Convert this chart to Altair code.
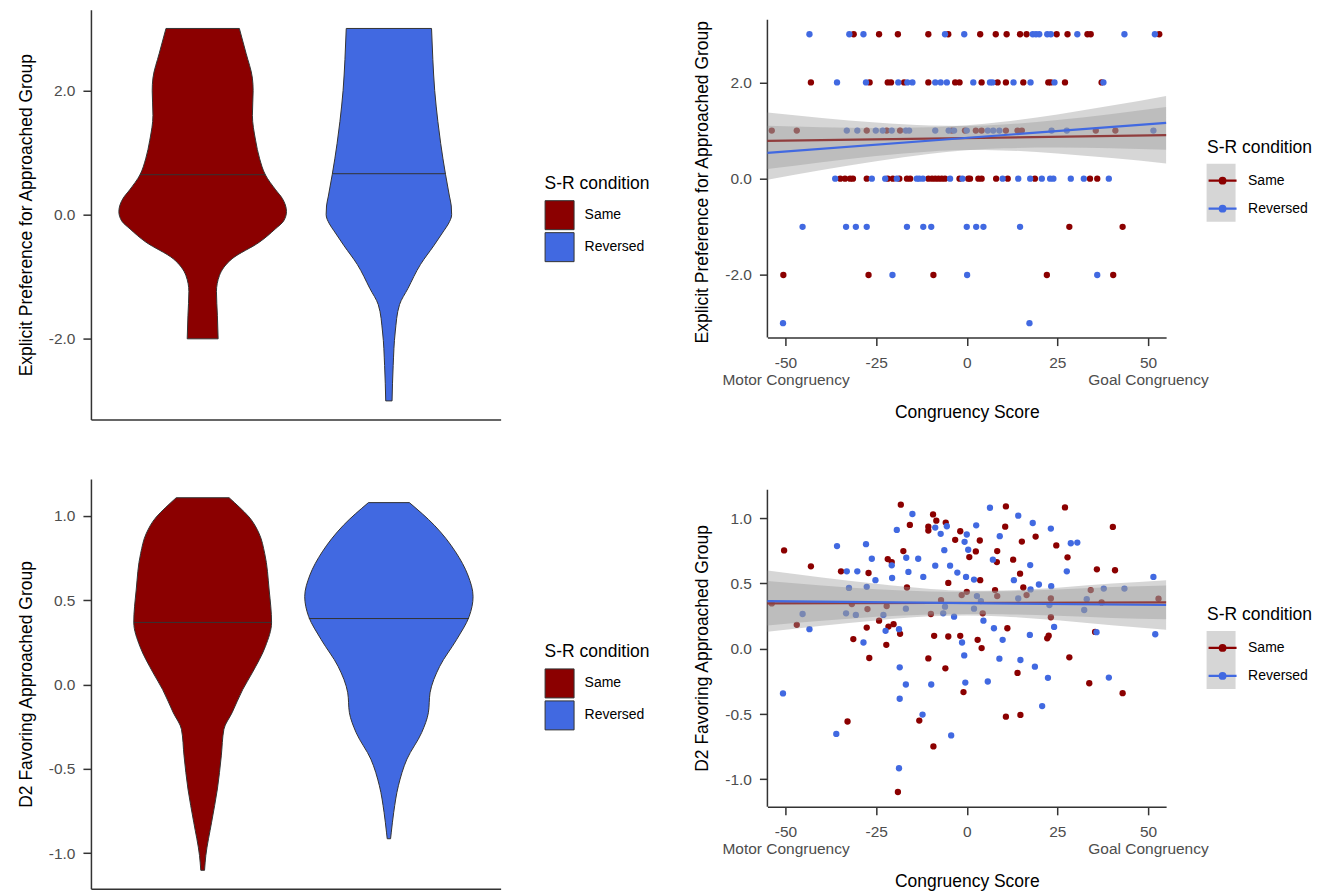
import altair as alt
import pandas as pd

FONT = "Liberation Sans"
RED, BLUE = "#8B0000", "#4169E1"
CONDS = ["Same", "Reversed"]
LEGEND_TITLE = "S-R condition"
X_TITLE = "Congruency Score"
TOP_Y_TITLE = "Explicit Preference for Approached Group"
BOT_Y_TITLE = "D2 Favoring Approached Group"
X_TICKS = [-50, -25, 0, 25, 50]
X_LOW_NAME = "Motor Congruency"
X_HIGH_NAME = "Goal Congruency"
TOP_Y_TICKS = [-2, 0, 2]
BOT_Y_TICKS = [-1, -0.5, 0, 0.5, 1]
X_RANGE = [-55, 55]
TOP_Y_RANGE = [-3.3, 3.3]
BOT_Y_RANGE = [-1.2105, 1.2175]

# ---------------- violin outlines (value, half width in category units) -------------
VT_SAME_Y = [3.0, 2.6, 2.2, 2.0, 1.6, 1.2, 0.9, 0.64, 0.4, 0.26, 0.05, -0.1, -0.23, -0.44, -0.71, -0.98, -1.24, -1.62, -2.0]
VT_SAME_W = [0.197, 0.233, 0.267, 0.271, 0.267, 0.284, 0.306, 0.337, 0.392, 0.428, 0.45, 0.435, 0.39, 0.306, 0.158, 0.090, 0.074, 0.079, 0.083]
VT_REV_Y = [3.0, 2.5, 2.0, 1.5, 1.15, 0.65, 0.3, 0.14, 0.0, -0.15, -0.26, -0.5, -0.8, -1.19, -1.45, -1.89, -2.43, -3.0]
VT_REV_W = [0.229, 0.236, 0.246, 0.263, 0.278, 0.304, 0.325, 0.335, 0.337, 0.319, 0.295, 0.241, 0.170, 0.102, 0.057, 0.034, 0.023, 0.017]
VT_MED = [0.644, 0.66]
VT_MED_W = [0.337, 0.304]

VB_SAME_Y = [1.107, 1.05, 0.993, 0.895, 0.777, 0.56, 0.368, 0.226, 0.069, -0.03, -0.167, -0.265, -0.423, -0.619, -0.816, -1.013, -1.101]
VB_SAME_W = [0.142, 0.198, 0.249, 0.303, 0.333, 0.357, 0.370, 0.337, 0.266, 0.215, 0.158, 0.114, 0.100, 0.079, 0.048, 0.017, 0.010]
VB_REV_Y = [1.078, 0.944, 0.786, 0.649, 0.521, 0.403, 0.265, 0.108, -0.049, -0.167, -0.285, -0.442, -0.600, -0.757, -0.875, -0.914]
VB_REV_W = [0.110, 0.244, 0.358, 0.424, 0.452, 0.431, 0.363, 0.273, 0.221, 0.212, 0.176, 0.097, 0.051, 0.026, 0.013, 0.009]
VB_MED = [0.368, 0.391]
VB_MED_W = [0.370, 0.430]

# ---------------- top scatter: explicit preference (integer levels) -----------------
SAME_AT_3 = [-31.2, -24.2, -19.0, -10.6, -5.1, 3.7, 8.0, 11.0, 14.7, 16.5, 24.8, 27.8, 33.3, 34.2, 53.1]
SAME_AT_2 = [-43.0, -26.8, -21.8, -20.9, -17.3, -10.6, -3.2, -2.0, 4.1, 8.5, 10.8, 15.6, 22.5, 23.2, 27.1, 37.2]
SAME_AT_1 = [-53.8, -46.9, -27.6, -22.1, -18.4, -4.1, -0.5, 2.5, 4.1, 10.8, 14.0, 15.2, 35.6, 41.0]
SAME_AT_0 = [-34.9, -33.6, -32.2, -31.4, -27.6, -21.8, -20.4, -18.6, -16.5, -15.6, -10.6, -9.6, -8.7, -7.8, -6.9, -6.0, -2.0, 0.4, 0.9, 3.2, 4.1, 8.1, 11.3, 18.8, 34.0, 36.0]
SAME_AT_M1 = [28.3, 43.0]
SAME_AT_M2 = [-50.6, -27.1, -9.2, 22.1, 40.4]
SAME_AT_M3 = []

REV_AT_3 = [-43.4, -32.4, -28.5, -6.0, -0.7, 18.2, 19.1, 20.0, 22.2, 23.2, 30.5, 43.5, 51.9]
REV_AT_2 = [-35.8, -27.8, -18.9, -16.4, -15.0, -8.7, -7.2, -5.5, 1.8, 6.4, 7.1, 12.9, 17.6, 24.2, 37.7]
REV_AT_1 = [-33.1, -30.2, -25.1, -23.2, -20.7, -16.8, -15.9, -8.7, -5.0, -3.5, 0.0, 5.8, 7.3, 9.0, 23.4, 27.6, 51.5]
REV_AT_0 = [-36.3, -26.2, -22.5, -19.3, -13.8, -13.1, -12.1, -4.6, -1.2, 9.9, 14.2, 17.5, 20.7, 23.0, 23.9, 28.7, 32.3, 39.2]
REV_AT_M1 = [-45.3, -33.3, -30.6, -27.6, -16.5, -12.0, -9.8, 0.0, 2.6, 4.6, 14.7]
REV_AT_M2 = [-20.5, 0.1, 36.0]
REV_AT_M3 = [-50.7, 17.3]

# ---------------- bottom scatter: D2 --------------------------------------------------
BR_SAME_X = [-50.4, -43.0, -34.7, -27.1, -21.8, -20.7, -17.5, -18.2, -15.7, -10.6, -10.6, -9.3, -8.4, -5.8, -1.8,
             -3.2, 0.7, -16.5, -5.1, -53.8, -46.9, -31.7, -27.4, -22.1, -24.2, -27.6, -21.6, -20.2, -18.4, -31.3,
             -22.2, -26.9, -9.0, -5.1, -1.8, -10.6, -5.9, -0.9, -32.9, -13.1, -9.2, -19.0, -9.9, -7.1, -1.4,
             3.6, 2.5, 10.8, 10.6, 8.4, 8.3, 15.2, 19.0, 12.8, 14.7, 15.6, 27.1, 24.7, 27.8, 40.3, 35.9, 40.9,
             3.7, 7.8, 8.4, 0.0, 4.4, 16.5, 23.2, 23.2, 34.2, 37.2, 52.9, 3.0, 4.1, 11.2, 22.2, 22.6, 28.3, 35.4,
             14.0, 33.8, 43.0, 10.8, 14.8]
BR_SAME_Y = [0.753, 0.631, 0.593, 0.580, 0.687, 0.664, 0.748, 1.103, 0.948, 0.935, 0.905, 1.029, 0.981, 0.966, 0.900,
             0.834, 0.702, 0.469, 0.504, 0.347, 0.183, 0.342, 0.304, 0.327, 0.215, 0.162, 0.170, 0.188, 0.114, 0.074,
             0.030, -0.071, 0.099, 0.094, 0.099, -0.074, -0.150, -0.332, -0.557, -0.550, -0.748, -1.097, 0.266, 0.373, 0.411,
             0.829, 0.745, 1.090, 0.935, 0.748, 0.664, 0.821, 0.859, 0.682, 0.575, 0.469, 1.082, 0.791, 0.700, 0.933, 0.608, 0.601,
             0.525, 0.449, 0.403, 0.436, 0.271, 0.411, 0.385, 0.241, 0.449, 0.355, 0.383, 0.068, 0.005, 0.157, 0.080, 0.100, -0.066, 0.129,
             -0.185, -0.264, -0.340, -0.520, -0.507]
BR_REV_X = [-35.8, -27.8, -26.2, -33.1, -30.2, -25.2, -20.6, -20.7, -16.7, -16.1, -13.4, -12.0, -19.3, -15.0, -8.7,
            -7.2, -5.5, -6.2, -8.7, -4.6, -2.6, -0.2, 0.0, -0.6, 0.4, -32.5, -27.6, -45.3, -33.3, -30.6, -23.0,
            -16.8, -6.5, -6.0, -3.5, -43.4, -22.4, -18.7, -28.5, -18.5, -16.8, -18.5, -9.8, -1.3, -0.7, -0.4,
            -50.7, -36.0, -12.2, -4.3, -18.7,
            6.4, 2.6, 9.1, 14.2, 18.2, 23.2, 28.7, 30.5, 7.2, 17.5, 27.6, 2.0, 13.0, 19.9, 23.3, 17.6, 14.2, 2.8,
            2.0, 3.9, 22.8, 33.1, 32.4, 37.8, 43.5, 51.5, 52.0, 4.6, 7.5, 9.9, 17.4, 24.1, 35.8, 9.0, 14.8, 18.8,
            22.4, 5.8, 39.2, 20.8]
BR_REV_Y = [0.786, 0.801, 0.689, 0.593, 0.593, 0.525, 0.542, 0.639, 0.697, 0.588, 0.689, 0.550, 0.910, 1.032, 0.928,
            0.880, 0.938, 0.755, 0.636, 0.636, 0.583, 0.550, 0.875, 0.819, 0.758, 0.466, 0.474, 0.266, 0.271, 0.259, 0.259,
            0.307, 0.271, 0.322, 0.246, 0.150, 0.137, 0.150, 0.048, -0.142, -0.274, -0.383, -0.274, 0.048, -0.051, -0.259,
            -0.342, -0.652, -0.504, -0.664, -0.915,
            1.080, 0.945, 0.862, 1.019, 0.963, 0.920, 0.808, 0.813, 0.682, 0.641, 0.593, 0.530, 0.525, 0.492, 0.479, 0.454, 0.385, 0.403,
            0.307, 0.365, 0.335, 0.380, 0.297, 0.461, 0.461, 0.550, 0.111, 0.215, 0.157, 0.068, 0.106, 0.167, 0.127, -0.076, -0.086, -0.137,
            -0.223, -0.251, -0.221, -0.439]

# ---------------- fitted lines and confidence bands ----------------------------------
FIT_X = [-55, 55]
TR_SAME_FIT = [0.787, 0.903]
TR_REV_FIT = [0.538, 1.159]
BR_SAME_FIT = [0.348, 0.355]
BR_REV_FIT = [0.365, 0.335]

BAND_X = [-55, -40, -25, -10, 0, 10, 25, 40, 55]
TR_SAME_LO = [0.201, 0.344, 0.472, 0.567, 0.595, 0.588, 0.524, 0.428, 0.317]
TR_SAME_HI = [1.373, 1.262, 1.166, 1.103, 1.095, 1.124, 1.218, 1.346, 1.489]
TR_REV_LO = [-0.022, 0.178, 0.364, 0.518, 0.589, 0.631, 0.646, 0.630, 0.600]
TR_REV_HI = [1.098, 1.068, 1.052, 1.068, 1.109, 1.181, 1.334, 1.520, 1.720]
BR_SAME_LO = [0.178, 0.214, 0.245, 0.263, 0.267, 0.264, 0.253, 0.236, 0.225]
BR_SAME_HI = [0.518, 0.484, 0.455, 0.439, 0.437, 0.440, 0.453, 0.472, 0.485]
BR_REV_LO = [0.130, 0.176, 0.217, 0.248, 0.255, 0.247, 0.218, 0.179, 0.145]
BR_REV_HI = [0.600, 0.546, 0.497, 0.458, 0.445, 0.447, 0.468, 0.499, 0.525]

# ---------------- styling helpers ----------------------------------------------------
MINUS = "\u2212"
YLAB = "replace(format(datum.value, '.1f'), '" + MINUS + "', '-')"
XLAB = ("datum.value == %d ? ['%d', '%s'] : datum.value == %d ? ['%d', '%s'] : replace(datum.label, '%s', '-')"
        % (X_TICKS[0], X_TICKS[0], X_LOW_NAME, X_TICKS[-1], X_TICKS[-1], X_HIGH_NAME, MINUS))
KEY_PATH = "M-1,0H1M-0.2,0A0.2,0.2,0,1,0,0.2,0A0.2,0.2,0,1,0,-0.2,0Z"
BOX_PATH = "M-0.5,-1H0.5V1H-0.5Z"
KEY_BG = "#D6D6D6"
AXIS_GREY = "#333333"

LEG_COMMON = dict(
    orient="none", padding=0, symbolOpacity=1, labelOffset=10,
    labelFont=FONT, labelFontSize=14, labelColor="#000000",
    titleFont=FONT, titleFontSize=17.5, titleFontWeight="normal", titleColor="#000000",
)


def violin_panel(same_y, same_w, rev_y, rev_w, med, med_w, ydom, yticks, ytitle, w, h, lx, ly):
    rows = []
    for cond, c, yv, wv in (("Same", 1, same_y, same_w), ("Reversed", 2, rev_y, rev_w)):
        for a, b in zip(yv, wv):
            rows.append({"cond": cond, "c": c, "y": a, "w": b})
    df = pd.DataFrame(rows)
    mdf = pd.DataFrame({"cond": CONDS, "c": [1, 2], "m": med, "w": med_w})
    xs = alt.Scale(domain=[0.4, 2.6], nice=False, zero=False)
    ys = alt.Scale(domain=ydom, nice=False, zero=False)
    xaxis = alt.Axis(labels=False, ticks=False, title=None, grid=False)
    yaxis = alt.Axis(values=yticks, labelExpr=YLAB, title=ytitle, grid=False)
    area = alt.Chart(df).transform_calculate(
        lo="datum.c - datum.w", hi="datum.c + datum.w"
    ).mark_area(orient="horizontal", interpolate="monotone", stroke=AXIS_GREY,
                strokeWidth=1, opacity=1).encode(
        y=alt.Y("y:Q", scale=ys, axis=yaxis),
        x=alt.X("lo:Q", scale=xs, axis=xaxis),
        x2="hi:Q",
        fill=alt.Fill("cond:N", scale=alt.Scale(domain=CONDS, range=[RED, BLUE]),
                      legend=alt.Legend(title=LEGEND_TITLE, legendX=lx, legendY=ly,
                                        symbolType="square", symbolSize=841,
                                        symbolStrokeColor=AXIS_GREY, symbolStrokeWidth=1,
                                        titlePadding=8, rowPadding=-5, **LEG_COMMON)),
    )
    rule = alt.Chart(mdf).transform_calculate(
        lo="datum.c - datum.w", hi="datum.c + datum.w"
    ).mark_rule(color=AXIS_GREY, strokeWidth=1).encode(
        y=alt.Y("m:Q", scale=ys, axis=yaxis),
        x=alt.X("lo:Q", scale=xs, axis=xaxis),
        x2="hi:Q",
    )
    return alt.layer(area, rule).properties(width=w, height=h)


def scatter_panel(pts, bands, fits, yrange, ytop, yticks, ytitle, w, h, lx, ly, bx, by, title_y):
    # ytop: scale top, a little above the drawn axis so the panel sits lower than its neighbour
    xs = alt.Scale(domain=X_RANGE, nice=False, zero=False)
    ys = alt.Scale(domain=[yrange[0], ytop], nice=False, zero=False)
    xaxis = alt.Axis(values=X_TICKS, labelExpr=XLAB, title=X_TITLE, labelLineHeight=17,
                     labelPadding=10, titlePadding=15.5, grid=False)
    yaxis = alt.Axis(values=yticks, labelExpr=YLAB, title=ytitle, grid=False, domain=False,
                     titleY=title_y)
    leg = alt.Legend(title=LEGEND_TITLE, legendX=lx, legendY=ly, symbolType=KEY_PATH,
                     symbolSize=784, symbolStrokeWidth=2.2, titlePadding=9, rowPadding=5,
                     **LEG_COMMON)
    cscale = alt.Scale(domain=CONDS, range=[RED, BLUE])

    def X(f):
        return alt.X(f, scale=xs, axis=xaxis)

    def Y(f):
        return alt.Y(f, scale=ys, axis=yaxis)

    keybox = alt.Chart(fits).transform_calculate(k="'key'").mark_point(
        opacity=0, filled=True).encode(
        x=X("x:Q"), y=Y("y:Q"),
        color=alt.Color("k:N", scale=alt.Scale(domain=["key"], range=[KEY_BG]),
                        legend=alt.Legend(title=None, orient="none", legendX=bx, legendY=by,
                                          symbolType=BOX_PATH, symbolSize=3364, symbolOpacity=1,
                                          symbolStrokeWidth=0, labelExpr="''", padding=0)),
    )
    axis_df = pd.DataFrame({"x": [X_RANGE[0]], "y0": [yrange[0]], "y1": [yrange[1]]})
    axis_line = alt.Chart(axis_df).mark_rule(color=AXIS_GREY, strokeWidth=1.5).encode(
        x=X("x:Q"), y=Y("y0:Q"), y2="y1:Q")
    points = alt.Chart(pts).mark_circle(size=40, opacity=1).encode(
        x=X("x:Q"), y=Y("y:Q"),
        fill=alt.Fill("cond:N", scale=cscale, legend=leg),
    )
    layers = [keybox, axis_line, points]
    for cond in CONDS:
        band = alt.Chart(bands[bands["cond"] == cond]).mark_area(
            color="#999999", opacity=0.4, interpolate="monotone").encode(
            x=X("x:Q"), y=Y("lo:Q"), y2="hi:Q")
        line = alt.Chart(fits[fits["cond"] == cond]).mark_line(strokeWidth=2.2).encode(
            x=X("x:Q"), y=Y("y:Q"),
            stroke=alt.Stroke("cond:N", scale=cscale, legend=leg))
        layers += [band, line]
    return alt.layer(*layers).properties(width=w, height=h)


def level_points(cond, levels):
    rows = []
    for lvl, xv in levels:
        for a in xv:
            rows.append({"cond": cond, "x": a, "y": lvl})
    return rows


tr_pts = pd.DataFrame(
    level_points("Same", [(3, SAME_AT_3), (2, SAME_AT_2), (1, SAME_AT_1), (0, SAME_AT_0),
                          (-1, SAME_AT_M1), (-2, SAME_AT_M2), (-3, SAME_AT_M3)])
    + level_points("Reversed", [(3, REV_AT_3), (2, REV_AT_2), (1, REV_AT_1), (0, REV_AT_0),
                                (-1, REV_AT_M1), (-2, REV_AT_M2), (-3, REV_AT_M3)]))
br_pts = pd.concat([
    pd.DataFrame({"cond": "Same", "x": BR_SAME_X, "y": BR_SAME_Y}),
    pd.DataFrame({"cond": "Reversed", "x": BR_REV_X, "y": BR_REV_Y}),
], ignore_index=True)


def band_df(s_lo, s_hi, r_lo, r_hi):
    return pd.concat([
        pd.DataFrame({"cond": "Same", "x": BAND_X, "lo": s_lo, "hi": s_hi}),
        pd.DataFrame({"cond": "Reversed", "x": BAND_X, "lo": r_lo, "hi": r_hi}),
    ], ignore_index=True)


def fit_df(s, r):
    return pd.concat([
        pd.DataFrame({"cond": "Same", "x": FIT_X, "y": s}),
        pd.DataFrame({"cond": "Reversed", "x": FIT_X, "y": r}),
    ], ignore_index=True)


tl = violin_panel(VT_SAME_Y, VT_SAME_W, VT_REV_Y, VT_REV_W, VT_MED, VT_MED_W,
                  TOP_Y_RANGE, TOP_Y_TICKS, TOP_Y_TITLE, 410, 410, 454, 165)
bl = violin_panel(VB_SAME_Y, VB_SAME_W, VB_REV_Y, VB_REV_W, VB_MED, VB_MED_W,
                  BOT_Y_RANGE, BOT_Y_TICKS, BOT_Y_TITLE, 410, 410, 454, 164)
tr = scatter_panel(tr_pts, band_df(TR_SAME_LO, TR_SAME_HI, TR_REV_LO, TR_REV_HI),
                   fit_df(TR_SAME_FIT, TR_REV_FIT), TOP_Y_RANGE, 3.507, TOP_Y_TICKS, TOP_Y_TITLE,
                   399, 328, 440, 129, 425, 154, 172)
br = scatter_panel(br_pts, band_df(BR_SAME_LO, BR_SAME_HI, BR_REV_LO, BR_REV_HI),
                   fit_df(BR_SAME_FIT, BR_REV_FIT), BOT_Y_RANGE, 1.2993, BOT_Y_TICKS, BOT_Y_TITLE,
                   399, 328, 440, 127, 425, 152, 169)

RES = dict(fill="independent", stroke="independent", color="independent")


def row(a, b):
    return alt.hconcat(a, b, spacing=43).resolve_scale(**RES).resolve_legend(**RES)


chart = alt.vconcat(row(tl, tr), row(bl, br), spacing=57.6).resolve_scale(**RES).resolve_legend(**RES)
chart = chart.properties(padding={"left": 9, "top": 1.5, "right": 2, "bottom": 0}).configure_view(
    stroke=None
).configure_axis(
    labelFont=FONT, titleFont=FONT, labelFontSize=15.5, titleFontSize=17.5,
    labelColor="#4D4D4D", titleColor="#000000", titleFontWeight="normal",
    domainColor=AXIS_GREY, domainWidth=1.5, tickColor=AXIS_GREY, tickWidth=1.5,
    tickSize=8, labelPadding=8, titlePadding=13, grid=False, labelFlush=False, labelOverlap=False,
)

chart.save("out.html", embed_options={"renderer": "svg", "actions": False})
